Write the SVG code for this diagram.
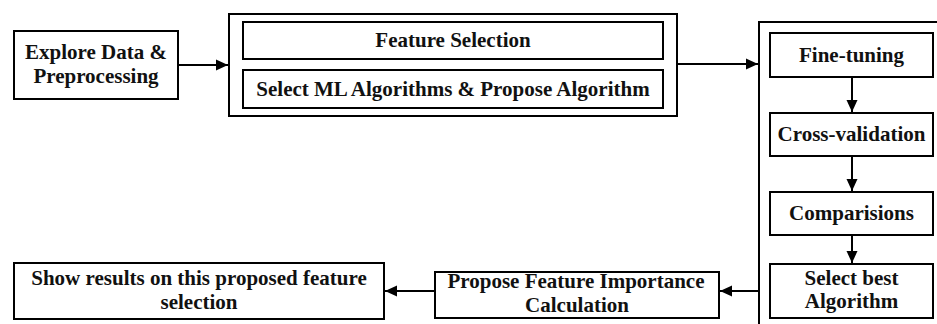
<svg xmlns="http://www.w3.org/2000/svg" width="937" height="324" viewBox="0 0 937 324">
<style>
.box{fill:#fff;stroke:#000;stroke-width:2}
.frame{fill:none;stroke:#000;stroke-width:2}
.t{font-family:"Liberation Serif","Times New Roman",serif;font-weight:bold;font-size:21px;fill:#111;text-anchor:middle}
.c{fill:none;stroke:#000;stroke-width:2;marker-end:url(#ah)}
</style>
<defs>
<marker id="ah" markerUnits="userSpaceOnUse" markerWidth="12" markerHeight="12" refX="12" refY="6" orient="auto">
<path d="M0,0.5 L12,6 L0,11.5 z" fill="#000"/>
</marker>
</defs>
<rect width="937" height="324" fill="#fff"/>
<g id="explore">
<rect class="box" x="14" y="31" width="164" height="68"/>
<text class="t" x="96" y="59">Explore Data &amp;</text>
<text class="t" x="96" y="83">Preprocessing</text>
</g>
<g id="stage1">
<rect class="frame" x="229" y="14" width="448" height="102"/>
</g>
<g id="feature-selection">
<rect class="box" x="243" y="22" width="420" height="37"/>
<text class="t" x="453" y="47">Feature Selection</text>
</g>
<g id="select-ml">
<rect class="box" x="243" y="70" width="420" height="38"/>
<text class="t" x="453" y="96">Select ML Algorithms &amp; Propose Algorithm</text>
</g>
<g id="stage2">
<path class="frame" d="M937,22 H759 V326"/>
</g>
<g id="fine-tuning">
<rect class="box" x="770" y="33" width="163" height="44"/>
<text class="t" x="851.5" y="62">Fine-tuning</text>
</g>
<g id="cross-validation">
<rect class="box" x="770" y="113" width="163" height="43"/>
<text class="t" x="851.5" y="141">Cross-validation</text>
</g>
<g id="comparisions">
<rect class="box" x="770" y="192" width="163" height="43"/>
<text class="t" x="851.5" y="220">Comparisions</text>
</g>
<g id="select-best">
<rect class="box" x="770" y="264" width="163" height="54"/>
<text class="t" x="851.5" y="285">Select best</text>
<text class="t" x="851.5" y="308">Algorithm</text>
</g>
<g id="propose-fi">
<rect class="box" x="435" y="272" width="284" height="46"/>
<text class="t" x="576" y="288">Propose Feature Importance</text>
<text class="t" x="577" y="312">Calculation</text>
</g>
<g id="show-results">
<rect class="box" x="14" y="263" width="370" height="56"/>
<text class="t" x="199" y="285">Show results on this proposed feature</text>
<text class="t" x="199" y="309">selection</text>
</g>
<g id="connectors">
<line class="c" x1="178" y1="65" x2="228" y2="65"/>
<line class="c" x1="677" y1="64" x2="758" y2="64"/>
<line class="c" x1="852" y1="77" x2="852" y2="112"/>
<line class="c" x1="852" y1="156" x2="852" y2="191"/>
<line class="c" x1="852" y1="235" x2="852" y2="263"/>
<line class="c" x1="759" y1="291" x2="720" y2="291"/>
<line class="c" x1="435" y1="291" x2="385" y2="291"/>
</g>
</svg>
